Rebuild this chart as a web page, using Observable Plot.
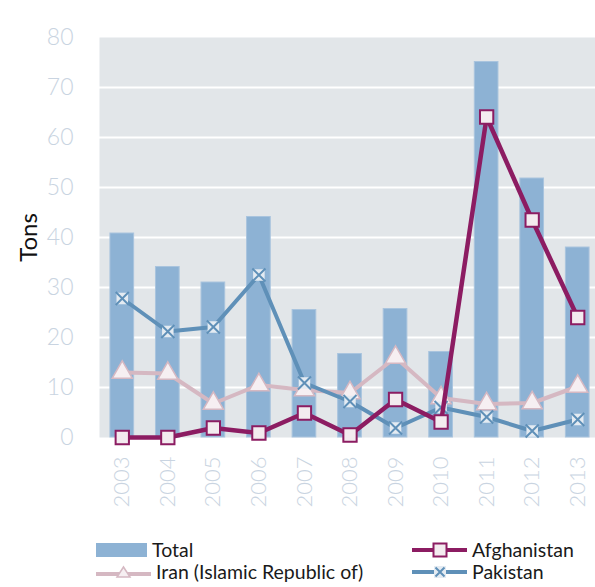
<!DOCTYPE html>
<html>
<head>
<meta charset="utf-8">
<script src="https://cdn.jsdelivr.net/npm/d3@7"></script>
<script src="https://cdn.jsdelivr.net/npm/@observablehq/plot@0.6"></script>
<style>
  html, body { margin: 0; padding: 0; background: #fff; }
  #wrap { width: 595px; height: 587px; position: relative; overflow: hidden; font-family: "Lato", "Open Sans", sans-serif; }
  .legend { position: absolute; left: 0; top: 530px; width: 595px; height: 57px; font-size: 19.5px; line-height: 20px; color: #1a1a1a; }
  .item { position: absolute; display: flex; align-items: center; height: 20px; }
  .item span { line-height: 20px; }
  .item svg { margin-right: 5px; }
</style>
</head>
<body>
<div id="wrap"></div>
<script>
const years = ["2003","2004","2005","2006","2007","2008","2009","2010","2011","2012","2013"];
const total = [40.8, 34.1, 31.0, 44.1, 25.5, 16.7, 25.7, 17.1, 75.1, 51.8, 38.0];
const afghanistan = [0.0, 0.0, 1.9, 0.9, 4.9, 0.5, 7.6, 3.1, 64.1, 43.5, 24.0];
const iran = [13.0, 12.8, 6.8, 10.5, 9.5, 8.9, 16.0, 7.9, 6.7, 6.9, 10.2];
const pakistan = [27.8, 21.2, 22.1, 32.5, 10.9, 7.2, 1.9, 6.0, 4.1, 1.3, 3.6];
const yTicks = [0, 10, 20, 30, 40, 50, 60, 70, 80];
const gridTicks = [10, 20, 30, 40, 50, 60, 70];
const seriesNames = ["Total", "Afghanistan", "Iran (Islamic Republic of)", "Pakistan"];

const colors = {
  bar: "#8db2d4",
  bg: "#e2e6e9",
  afg: "#8c1c62",
  afgFill: "#f3ebef",
  iran: "#d5b8c2",
  iranFill: "#f6eff2",
  pak: "#5f90b8",
  pakFill: "#e4ebf2",
  tick: "#c9d4e1"
};

const rows = (vals) => years.map((y, i) => ({year: y, value: vals[i]}));
const totalData = rows(total), afgData = rows(afghanistan), iranData = rows(iran), pakData = rows(pakistan);

const chart = Plot.plot({
  width: 595,
  height: 530,
  marginLeft: 99,
  marginRight: 0,
  marginTop: 37,
  marginBottom: 93,
  style: {fontFamily: "Lato, 'Open Sans', sans-serif", background: "transparent"},
  x: {type: "band", domain: years, range: [99, 600], round: false, paddingInner: 0.48, paddingOuter: 0.24, label: null},
  y: {domain: [0, 80], label: null},
  marks: [
    Plot.frame({fill: colors.bg, stroke: null}),
    Plot.gridY(gridTicks, {stroke: "#ffffff", strokeOpacity: 1, strokeWidth: 2}),
    Plot.barY(totalData, {x: "year", y: "value", fill: colors.bar, stroke: "#a9c4de", strokeWidth: 1}),
    Plot.line(iranData, {x: "year", y: "value", stroke: colors.iran, strokeWidth: 4}),
    Plot.dot(iranData, {x: "year", y: "value", symbol: "triangle", r: 7.5, fill: colors.iranFill, stroke: colors.iran, strokeWidth: 1.5}),
    Plot.line(pakData, {x: "year", y: "value", stroke: colors.pak, strokeWidth: 4}),
    Plot.dot(pakData, {x: "year", y: "value", symbol: "square", r: 6.5, fill: colors.pakFill, stroke: null}),
    Plot.dot(pakData, {x: "year", y: "value", symbol: "times", r: 6, stroke: colors.pak, strokeWidth: 2}),
    Plot.line(afgData, {x: "year", y: "value", stroke: colors.afg, strokeWidth: 4.5}),
    Plot.dot(afgData, {x: "year", y: "value", symbol: "square", r: 7.5, fill: colors.afgFill, stroke: colors.afg, strokeWidth: 2}),
    Plot.axisY(yTicks, {tickSize: 0, tickPadding: 26, fontSize: 23, fontWeight: 300, fill: colors.tick, label: null}),
    Plot.axisX({tickSize: 0, tickPadding: 19, tickRotate: -90, fontSize: 22, fontWeight: 300, fill: colors.tick, label: null}),
    Plot.text(["Tons"], {frameAnchor: "left", dx: -70, rotate: -90, textAnchor: "middle", fontSize: 24, fill: "#111", text: d => d})
  ]
});

const wrap = document.getElementById("wrap");
wrap.appendChild(chart);

const legend = document.createElement("div");
legend.className = "legend";
const sw = {
  "Total": `<svg width="51" height="14"><rect x="0" y="0" width="51" height="14" fill="${colors.bar}"/></svg>`,
  "Afghanistan": `<svg width="55" height="16"><line x1="0" y1="8" x2="55" y2="8" stroke="${colors.afg}" stroke-width="4"/><rect x="21.5" y="1.5" width="13" height="13" fill="${colors.afgFill}" stroke="${colors.afg}" stroke-width="2"/></svg>`,
  "Iran (Islamic Republic of)": `<svg width="55" height="16"><line x1="0" y1="10" x2="55" y2="10" stroke="${colors.iran}" stroke-width="4"/><path d="M27.5,3 L34,13 L21,13 Z" fill="${colors.iranFill}" stroke="${colors.iran}" stroke-width="1.5"/></svg>`,
  "Pakistan": `<svg width="55" height="16"><line x1="0" y1="8" x2="55" y2="8" stroke="${colors.pak}" stroke-width="4"/><rect x="22" y="2" width="12" height="12" fill="${colors.pakFill}"/><path d="M23.5,3.5 L32.5,12.5 M32.5,3.5 L23.5,12.5" stroke="${colors.pak}" stroke-width="2"/></svg>`
};
const pos = [
  {name: seriesNames[0], left: 96, top: 10},
  {name: seriesNames[1], left: 412, top: 10},
  {name: seriesNames[2], left: 96, top: 32},
  {name: seriesNames[3], left: 412, top: 32}
];
pos.forEach(p => {
  const d = document.createElement("div");
  d.className = "item";
  d.style.left = p.left + "px";
  d.style.top = p.top + "px";
  d.innerHTML = sw[p.name] + `<span>${p.name}</span>`;
  legend.appendChild(d);
});
wrap.appendChild(legend);
</script>
</body>
</html>
